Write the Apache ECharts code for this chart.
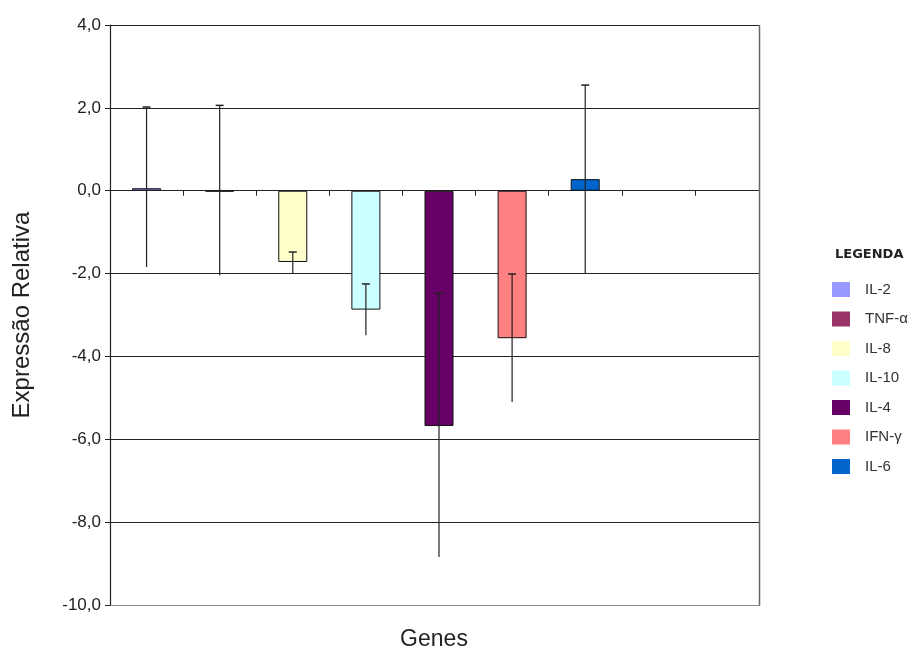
<!DOCTYPE html>
<html>
<head>
<meta charset="utf-8">
<script src="https://cdn.jsdelivr.net/npm/echarts@6/dist/echarts.min.js"></script>
<style>
  html, body { margin: 0; padding: 0; background: #fff; }
  #chart { width: 916px; height: 652px; }
</style>
</head>
<body>
<div id="chart"></div>
<script>
// genes, one bar per category slot (last two slots are empty)
var genes = ['IL-2', 'TNF-α', 'IL-8', 'IL-10', 'IL-4', 'IFN-γ', 'IL-6'];
var categories = ['IL-2', 'TNF-α', 'IL-8', 'IL-10', 'IL-4', 'IFN-γ', 'IL-6', ' ', '  '];
var expressao = [0.06, -0.02, -1.72, -2.87, -5.68, -3.56, 0.28];
var erroSup = [2.02, 2.06, -1.48, -2.25, -2.47, -2.01, 2.55];
var erroInf = [-1.84, -2.04, -1.99, -3.49, -8.84, -5.10, -1.99];
var cores = ['#9999ff', '#993366', '#ffffcc', '#ccffff', '#660066', '#ff8080', '#0066cc'];

var chart = echarts.init(document.getElementById('chart'));

var series = genes.map(function (g, i) {
    var data = categories.map(function (c, j) { return j === i ? expressao[i] : '-'; });
    return {
        name: g,
        type: 'bar',
        stack: 'genes',
        barWidth: 29,
        itemStyle: {
            color: cores[i],
            borderColor: '#111',
            borderWidth: 1
        },
        data: data
    };
});

// barras de erro
series.push({
    name: 'erro',
    type: 'custom',
    z: 5,
    renderItem: function (params, api) {
        var top = api.coord([api.value(0), api.value(2)]);
        var bot = api.coord([api.value(0), api.value(1)]);
        return {
            type: 'group',
            children: [
                { type: 'line', shape: { x1: top[0], y1: top[1], x2: bot[0], y2: bot[1] },
                  style: { stroke: '#222', lineWidth: 1.2 } },
                { type: 'line', shape: { x1: top[0] - 4, y1: top[1], x2: top[0] + 4, y2: top[1] },
                  style: { stroke: '#222', lineWidth: 1.5 } }
            ]
        };
    },
    encode: { x: 0, y: [1, 2] },
    data: genes.map(function (g, i) { return [i, erroInf[i], erroSup[i]]; })
});

var option = {
    animation: false,
    backgroundColor: '#fff',
    textStyle: { fontFamily: 'Liberation Sans, Arial, sans-serif' },
    title: [
        {
            text: 'LEGENDA',
            left: 830, top: 243,
            textStyle: { fontSize: 13, fontWeight: 'bold', color: '#222', fontFamily: 'DejaVu Sans' }
        },
        {
            text: 'Genes',
            left: 429, top: 623,
            textAlign: 'center',
            textStyle: { fontSize: 23, fontWeight: 'normal', color: '#222' }
        }
    ],
    legend: {
        data: genes,
        orient: 'vertical',
        left: 827, top: 277,
        itemWidth: 18, itemHeight: 15,
        itemGap: 14.5,
        icon: 'rect',
        itemStyle: { borderWidth: 0 },
        textStyle: { fontSize: 15, color: '#333', padding: [0, 0, 0, 10] }
    },
    grid: {
        left: 110, right: 148, top: 25, bottom: 47,
        show: false
    },
    graphic: [
        // borda direita da area do grafico
        { type: 'rect', z: 100, shape: { x: 760, y: 15, width: 40, height: 600 },
          style: { fill: '#fff' } },
        { type: 'line', z: 101, shape: { x1: 759.5, y1: 25, x2: 759.5, y2: 605.5 },
          style: { stroke: '#666', lineWidth: 1.5 } }
    ],
    xAxis: {
        type: 'category',
        data: categories,
        axisLine: { onZero: true, lineStyle: { color: '#222', width: 1.2 } },
        axisTick: { show: true, length: 5, lineStyle: { color: '#222' } },
        axisLabel: { show: false },
        splitLine: { show: false }
    },
    yAxis: {
        type: 'value',
        min: -10, max: 4, interval: 2,
        name: 'Expressão Relativa',
        nameLocation: 'middle',
        nameGap: 76,
        nameTextStyle: { fontSize: 24, color: '#222' },
        axisLine: { show: true, lineStyle: { color: '#222', width: 1.2 } },
        axisTick: { show: true, length: 5, lineStyle: { color: '#222' } },
        axisLabel: {
            fontSize: 17, color: '#222', margin: 9,
            formatter: function (v) { return v.toFixed(1).replace('.', ','); }
        },
        splitLine: { show: true, lineStyle: { color: ['#888', '#222', '#222', '#222', '#222', '#222', '#222', '#222'], width: 1.2 } }
    },
    series: series
};

chart.setOption(option);
</script>
</body>
</html>
